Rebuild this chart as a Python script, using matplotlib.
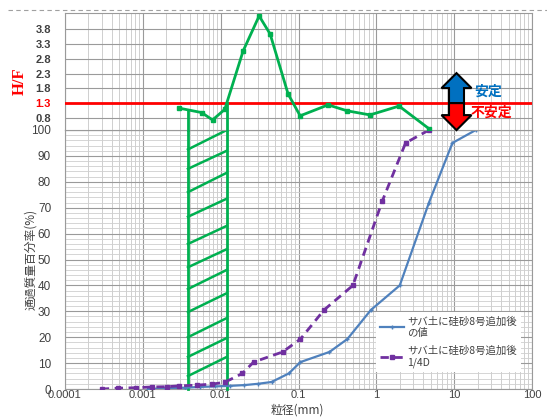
import matplotlib
matplotlib.use('Agg')
import matplotlib.pyplot as plt
import numpy as np
from matplotlib.patches import Polygon
from matplotlib.transforms import IdentityTransform
from matplotlib.lines import Line2D
from matplotlib.ticker import FixedLocator, NullFormatter, LogLocator, MultipleLocator

plt.rcParams['font.family'] = ['Noto Sans CJK JP', 'DejaVu Sans']

# ---------------- data ----------------
# Grain size curve (after adding silica sand No.8)
blue_d = [19, 9.5, 4.75, 2.0, 0.85, 0.425, 0.25, 0.106, 0.075, 0.045, 0.030,
          0.020, 0.013, 0.0085, 0.0054, 0.0035, 0.0019, 0.00117]
blue_p = [100, 95, 72, 40, 30.5, 19.3, 14.3, 10.4, 6.0, 2.7, 2.0,
          1.5, 1.2, 1.0, 0.8, 0.5, 0.3, 0.0]
# 1/4 D curve
purple_d = [4.75, 2.375, 1.19, 0.5, 0.2125, 0.106, 0.0625, 0.0265, 0.019, 0.0113,
            0.0078, 0.005, 0.0029, 0.00206, 0.00133, 0.00082, 0.000475, 0.0003]
purple_p = [100, 95, 72.5, 40, 30.5, 19.3, 14.3, 10.4, 6.0, 2.6,
            1.9, 1.5, 1.2, 0.9, 0.8, 0.5, 0.3, 0.0]
# H/F values
hf_d = [0.00293, 0.00569, 0.00787, 0.0113, 0.0194, 0.0312, 0.0432, 0.0735,
        0.105, 0.24, 0.42, 0.83, 1.96, 4.77]
hf_v = [1.13, 0.98, 0.73, 1.09, 3.06, 4.25, 3.64, 1.61,
        0.87, 1.24, 1.04, 0.90, 1.20, 0.43]
hf_limit = 1.3
# hatched (unstable) zone
zone_left, zone_right = 0.0038, 0.0120
hatch_left_p = [92.5, 85, 76, 66.5, 56, 47, 38.6, 29.7, 20, 12.4, 5]
hatch_right_p = [100, 92, 83.5, 73.5, 63, 54, 46, 37, 27.4, 19.7, 12.4]

x_ticks = [0.0001, 0.001, 0.01, 0.1, 1, 10, 100]
x_ticklabels = ['0.0001', '0.001', '0.01', '0.1', '1', '10', '100']
hf_ticks = [0.8, 1.3, 1.8, 2.3, 2.8, 3.3, 3.8]
p_ticks = list(range(0, 101, 10))

label_blue = 'サバ土に硅砂8号追加後\nの値'
label_purple = 'サバ土に硅砂8号追加後\n1/4D'

# ---------------- style ----------------
GREEN = '#00b050'
BLUE = '#4f81bd'
PURPLE = '#7030a0'
RED = '#ff0000'
MAJ = '#9a9a9a'
MIN = '#cfcfcf'
TXT = '#404040'
NUMFONT = ['Liberation Sans Narrow', 'Liberation Sans', 'DejaVu Sans']

W, H = 547, 417
fig = plt.figure(figsize=(W / 100, H / 100), dpi=100)
L, R = 65 / W, 532 / W
ax2 = fig.add_axes([L, 1 - 389 / H, R - L, (389 - 130) / H])
ax1 = fig.add_axes([L, 1 - 130 / H, R - L, (130 - 13) / H], sharex=ax2)

for ax in (ax1, ax2):
    ax.set_xscale('log')
    ax.set_xlim(1e-4, 100)
    ax.xaxis.set_major_locator(FixedLocator(x_ticks))
    ax.xaxis.set_minor_locator(LogLocator(base=10, subs=np.arange(2, 10), numticks=20))
    ax.xaxis.set_minor_formatter(NullFormatter())
    ax.grid(True, which='major', axis='x', color=MAJ, lw=0.8)
    ax.grid(True, which='minor', axis='x', color=MIN, lw=0.7)
    for s in ax.spines.values():
        s.set_color(MAJ)
        s.set_linewidth(0.8)
    ax.set_axisbelow(True)
    ax.tick_params(which='both', length=0)

# ---- top panel H/F ----
ax1.set_ylim(0.39, 4.35)
ax1.yaxis.set_major_locator(FixedLocator(hf_ticks))
ax1.set_yticklabels([f'{t:.1f}' for t in hf_ticks], fontsize=8, fontweight='bold',
                    color=TXT, family=NUMFONT)
for lab, t in zip(ax1.get_yticklabels(), hf_ticks):
    if abs(t - hf_limit) < 1e-6:
        lab.set_color(RED)
ax1.grid(True, which='major', axis='y', color=MAJ, lw=0.8)
ax1.tick_params(axis='x', labelbottom=False)
ax1.tick_params(axis='y', pad=10)
ax1.axhline(hf_limit, color=RED, lw=2, zorder=3)
ax1.plot(hf_d, hf_v, color=GREEN, lw=2, marker='s', ms=3, zorder=4)
ax1.text(-0.097, 0.42, 'H/F', transform=ax1.transAxes, rotation=90, color=RED,
         fontsize=12, fontweight='bold', family=['Liberation Serif'],
         ha='center', va='center')

# vertical boundaries of the zone in top panel (up to the H/F curve)
lx = np.log10(hf_d)
for zx in (zone_left, zone_right):
    ytop = np.interp(np.log10(zx), lx, hf_v)
    ax1.plot([zx, zx], [0.39, ytop], color=GREEN, lw=2, zorder=4, clip_on=False)

# ---- bottom panel ----
ax2.set_ylim(0, 100)
ax2.yaxis.set_major_locator(FixedLocator(p_ticks))
ax2.yaxis.set_minor_locator(MultipleLocator(2))
ax2.grid(True, which='major', axis='y', color=MAJ, lw=0.8)
ax2.grid(True, which='minor', axis='y', color=MIN, lw=0.6)
ax2.set_xticklabels(x_ticklabels)
ax2.tick_params(axis='y', labelsize=8.5, labelcolor=TXT, pad=10)
ax2.tick_params(axis='x', labelsize=8, labelcolor=TXT, pad=0.5)
for lab in ax2.get_xticklabels() + ax2.get_yticklabels():
    lab.set_family(NUMFONT)

for zx in (zone_left, zone_right):
    ax2.plot([zx, zx], [0, 100], color=GREEN, lw=2, zorder=3, clip_on=False)
for yl, yr in zip(hatch_left_p, hatch_right_p):
    ax2.plot([zone_left, zone_right], [yl, yr], color=GREEN, lw=1.8, zorder=3)

ax2.plot(blue_d, blue_p, color=BLUE, lw=1.6, marker='+', ms=3.5, mew=1,
         label=label_blue, zorder=5)
ax2.plot(purple_d, purple_p, color=PURPLE, lw=2, ls=(0, (3, 2)), marker='s', ms=3.5,
         label=label_purple, zorder=5)

leg = ax2.legend(loc='upper left', bbox_to_anchor=(376 / W, 1 - 312 / H),
                 bbox_transform=fig.transFigure, fontsize=7.5, frameon=True,
                 fancybox=False, edgecolor='none', facecolor='white', framealpha=1,
                 handlelength=2.3, handletextpad=0.3, labelspacing=0.7,
                 borderpad=0.4, borderaxespad=0)
for t in leg.get_texts():
    t.set_color(TXT)

ax2.set_xlabel('粒径(mm)', fontsize=8.5, color=TXT)
ax2.xaxis.set_label_coords((297 - 65) / 467, (389 - 410) / 259)
ax2.xaxis.label.set_va('center')
ax2.set_ylabel('通過質量百分率(%)', fontsize=8.5, color=TXT)
ax2.yaxis.set_label_coords((31 - 65) / 467, 0.5)
ax2.yaxis.label.set_va('center')

# ---- stable / unstable arrow ----
fig.canvas.draw()
xa = 10 ** 1.03
xc, yc = ax1.transData.transform((xa, hf_limit))
up = [(xc - 7.5, yc), (xc - 7.5, yc + 15), (xc - 15, yc + 15), (xc, yc + 30),
      (xc + 15, yc + 15), (xc + 7.5, yc + 15), (xc + 7.5, yc)]
dn = [(xc - 7.5, yc), (xc - 7.5, yc - 12), (xc - 15, yc - 12), (xc, yc - 27),
      (xc + 15, yc - 12), (xc + 7.5, yc - 12), (xc + 7.5, yc)]
fig.add_artist(Polygon(up, closed=True, facecolor='#0070c0', edgecolor='black', lw=1.5,
                       transform=IdentityTransform(), zorder=10))
fig.add_artist(Polygon(dn, closed=True, facecolor=RED, edgecolor='black', lw=1.5,
                       transform=IdentityTransform(), zorder=10))
ax1.text(0.906, 0.325, '安定', transform=ax1.transAxes, color='#0070c0', fontsize=10,
         fontweight='bold', ha='center', va='center', zorder=11)
ax1.text(0.912, 0.145, '不安定', transform=ax1.transAxes, color=RED, fontsize=10,
         fontweight='bold', ha='center', va='center', zorder=11)

# chart-area dashed border at top
fig.add_artist(Line2D([8 / W, 1.0], [1 - 10 / H, 1 - 10 / H], transform=fig.transFigure,
                      color='#a0a0a0', lw=0.8, ls=(0, (4, 3))))

fig.savefig('out.png', dpi=100)
